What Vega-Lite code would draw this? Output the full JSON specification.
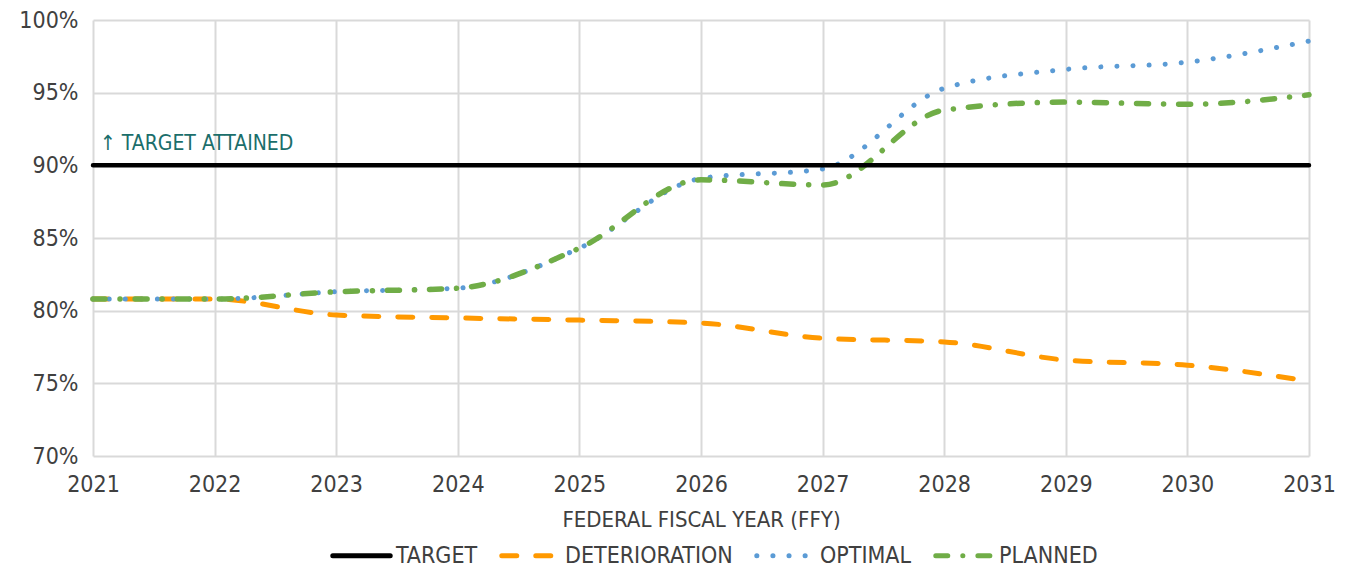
{
  "$schema": "https://vega.github.io/schema/vega-lite/v6.json",
  "width": 1216,
  "height": 436,
  "autosize": {"type": "none"},
  "padding": {"left": 93, "top": 20, "right": 39, "bottom": 111},
  "background": "white",
  "config": {
    "font": "DejaVu Sans Condensed",
    "view": {"stroke": null},
    "axis": {
      "labelFont": "DejaVu Sans Condensed",
      "labelFontSize": 23,
      "labelColor": "#404040",
      "titleFont": "DejaVu Sans Condensed",
      "titleFontSize": 22,
      "titleFontWeight": "normal",
      "titleColor": "#404040",
      "gridColor": "#d9d9d9",
      "gridWidth": 2,
      "domain": false,
      "ticks": false
    },
    "legend": {
      "labelFont": "DejaVu Sans Condensed",
      "labelFontSize": 23,
      "labelColor": "#404040",
      "labelLimit": 400,
      "padding": 0
    }
  },
  "data": {
    "values": [
      {"year": 2021, "value": 0.90, "series": "TARGET"},
      {"year": 2031, "value": 0.90, "series": "TARGET"},
      {"year": 2021, "value": 0.808, "series": "DETERIORATION"},
      {"year": 2022, "value": 0.808, "series": "DETERIORATION"},
      {"year": 2023, "value": 0.797, "series": "DETERIORATION"},
      {"year": 2024, "value": 0.795, "series": "DETERIORATION"},
      {"year": 2025, "value": 0.7935, "series": "DETERIORATION"},
      {"year": 2026, "value": 0.7915, "series": "DETERIORATION"},
      {"year": 2027, "value": 0.781, "series": "DETERIORATION"},
      {"year": 2028, "value": 0.7785, "series": "DETERIORATION"},
      {"year": 2029, "value": 0.766, "series": "DETERIORATION"},
      {"year": 2030, "value": 0.7625, "series": "DETERIORATION"},
      {"year": 2031, "value": 0.7515, "series": "DETERIORATION"},
      {"year": 2021, "value": 0.808, "series": "OPTIMAL"},
      {"year": 2022, "value": 0.808, "series": "OPTIMAL"},
      {"year": 2023, "value": 0.813, "series": "OPTIMAL"},
      {"year": 2024, "value": 0.8155, "series": "OPTIMAL"},
      {"year": 2025, "value": 0.843, "series": "OPTIMAL"},
      {"year": 2026, "value": 0.891, "series": "OPTIMAL"},
      {"year": 2027, "value": 0.8975, "series": "OPTIMAL"},
      {"year": 2028, "value": 0.953, "series": "OPTIMAL"},
      {"year": 2029, "value": 0.966, "series": "OPTIMAL"},
      {"year": 2030, "value": 0.971, "series": "OPTIMAL"},
      {"year": 2031, "value": 0.9855, "series": "OPTIMAL"},
      {"year": 2021, "value": 0.808, "series": "PLANNED"},
      {"year": 2022, "value": 0.808, "series": "PLANNED"},
      {"year": 2023, "value": 0.813, "series": "PLANNED"},
      {"year": 2024, "value": 0.8155, "series": "PLANNED"},
      {"year": 2025, "value": 0.843, "series": "PLANNED"},
      {"year": 2026, "value": 0.890, "series": "PLANNED"},
      {"year": 2027, "value": 0.8865, "series": "PLANNED"},
      {"year": 2028, "value": 0.938, "series": "PLANNED"},
      {"year": 2029, "value": 0.9435, "series": "PLANNED"},
      {"year": 2030, "value": 0.942, "series": "PLANNED"},
      {"year": 2031, "value": 0.9485, "series": "PLANNED"}
    ]
  },
  "encoding": {
    "x": {
      "field": "year",
      "type": "quantitative",
      "scale": {"domain": [2021, 2031], "nice": false, "zero": false},
      "axis": {"values": [2021, 2022, 2023, 2024, 2025, 2026, 2027, 2028, 2029, 2030, 2031], "format": "d", "labelPadding": 17, "labelFlush": false, "labelBound": false, "labelOverlap": false, "title": "FEDERAL FISCAL YEAR (FFY)", "titlePadding": 13}
    },
    "y": {
      "field": "value",
      "type": "quantitative",
      "scale": {"domain": [0.7, 1.0], "nice": false, "zero": false},
      "axis": {"values": [0.7, 0.75, 0.8, 0.85, 0.9, 0.95, 1.0], "format": ".0%", "labelPadding": 15, "labelFlush": false, "title": null}
    },
    "color": {
      "field": "series",
      "type": "nominal",
      "scale": {"domain": ["TARGET", "DETERIORATION", "OPTIMAL", "PLANNED"], "range": ["#000000", "#FF9900", "#5B9BD5", "#70AD47"]},
      "legend": {"orient": "none", "legendX": 237, "legendY": 504, "direction": "horizontal", "title": null, "symbolType": "stroke", "symbolSize": 3300, "symbolStrokeWidth": 5, "columnPadding": 13, "labelOffset": 3, "encode": {"symbols": {"update": {"strokeCap": {"value": "round"}}}}}
    },
    "strokeDash": {
      "field": "series",
      "type": "nominal",
      "scale": {"domain": ["TARGET", "DETERIORATION", "OPTIMAL", "PLANNED"], "range": [[1, 0], [15, 19], [0.1, 16], [12, 15, 0.1, 15]]},
      "legend": {"orient": "none", "legendX": 237, "legendY": 504, "direction": "horizontal", "title": null, "symbolType": "stroke", "symbolSize": 3300, "symbolStrokeWidth": 5, "columnPadding": 13, "labelOffset": 3, "encode": {"symbols": {"update": {"strokeCap": {"value": "round"}}}}}
    }
  },
  "layer": [
    {
      "transform": [{"filter": "datum.series === 'DETERIORATION'"}],
      "mark": {"type": "line", "interpolate": "monotone", "strokeWidth": 5, "strokeCap": "round"}
    },
    {
      "transform": [{"filter": "datum.series === 'OPTIMAL'"}],
      "mark": {"type": "line", "interpolate": "monotone", "strokeWidth": 5, "strokeCap": "round"}
    },
    {
      "transform": [{"filter": "datum.series === 'PLANNED'"}],
      "mark": {"type": "line", "interpolate": "monotone", "strokeWidth": 5.5, "strokeCap": "round"}
    },
    {
      "transform": [{"filter": "datum.series === 'TARGET'"}],
      "mark": {"type": "line", "strokeWidth": 4.5, "strokeCap": "round"}
    },
    {
      "data": {"values": [{"year": 2021, "value": 0.9, "label": "↑ TARGET ATTAINED"}]},
      "mark": {"type": "text", "align": "left", "baseline": "bottom", "dx": 7, "dy": -11, "fontSize": 21, "color": "#1B6E6B", "font": "DejaVu Sans Condensed"},
      "encoding": {
        "text": {"field": "label"},
        "color": {"value": "#1B6E6B"},
        "strokeDash": null
      }
    }
  ]
}
